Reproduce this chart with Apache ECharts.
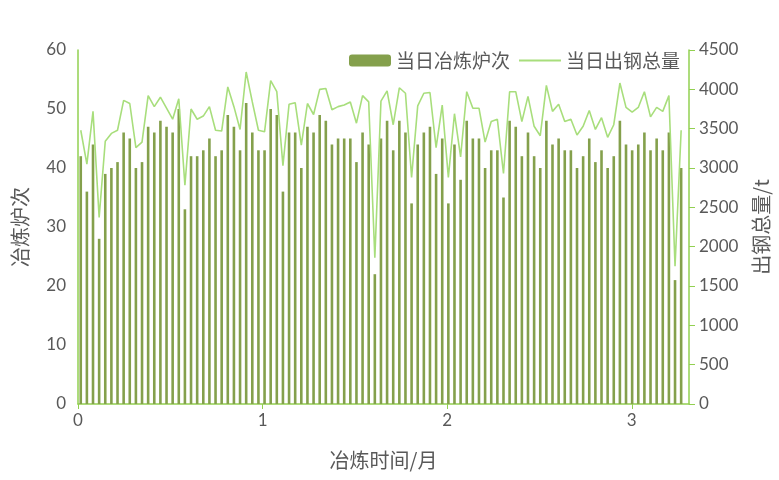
<!DOCTYPE html>
<html>
<head>
<meta charset="utf-8">
<script src="https://cdn.jsdelivr.net/npm/echarts@6/dist/echarts.min.js"></script>
<style>html,body{margin:0;padding:0;background:#fff}#chart{width:779px;height:480px}</style>
</head>
<body>
<div id="chart"></div>
<script>
// daily furnace heats (left axis)
const heats = [
  42,36,44,28,39,40,41,46,45,40,41,47,46,48,47,46,50,
  33,42,42,43,45,42,43,49,47,43,51,46,43,43,50,49,36,
  46,46,40,47,46,49,48,44,45,45,45,41,46,44,22,45,
  48,43,48,46,34,44,46,47,39,45,34,44,38,48,45,45,40,
  43,43,35,48,47,42,46,42,40,48,44,45,43,43,40,42,
  45,41,43,40,42,48,44,43,44,46,43,45,43,46,21,40
]
// daily steel output, t (right axis)
const output = [
  3480,3050,3720,2370,3340,3440,3480,3860,3820,3260,3330,3920,3780,3900,3760,3620,3880,
  2780,3750,3620,3660,3780,3480,3470,4030,3780,3490,4220,3840,3480,3460,4110,3970,3030,
  3810,3830,3290,3820,3680,4000,4010,3740,3780,3800,3840,3570,3920,3840,1860,3850,
  3980,3550,4020,3950,2880,3790,3950,3960,3260,3800,2880,3690,3140,3970,3760,3760,3330,
  3590,3620,2930,3970,3970,3590,3910,3530,3410,4050,3720,3810,3590,3620,3420,3530,
  3730,3490,3640,3390,3550,4080,3770,3710,3770,3970,3650,3770,3720,3920,1750,3480
]
const monthTicks = [0, 1, 2, 3]

// day index -> months
const xs = heats.map((_, i) => (i + 0.45) / 30.13)

const GRAY = '#595959'
const AXIS = '#92d050'
const NUM_FONT = 'Lato, "Noto Sans CJK SC", sans-serif'
const CJK_FONT = '"Noto Sans CJK SC", sans-serif'

const chart = echarts.init(document.getElementById('chart'))
chart.setOption({
  animation: false,
  grid: { left: 78, right: 88, top: 50, bottom: 76 },
  legend: {
    top: 46, right: 94, itemWidth: 42, itemHeight: 12, itemGap: 8,
    textStyle: { color: GRAY, fontSize: 19, fontFamily: CJK_FONT },
    data: [
      { name: '当日冶炼炉次' },
      { name: '当日出钢总量', itemStyle: { opacity: 0 } }
    ]
  },
  xAxis: {
    type: 'value', min: 0, max: 3.31, interval: 1,
    name: '冶炼时间/月', nameLocation: 'middle', nameGap: 46,
    nameTextStyle: { color: GRAY, fontSize: 20, fontFamily: CJK_FONT },
    axisLine: { lineStyle: { color: AXIS, width: 1.5 } },
    axisTick: { show: true, length: 5, lineStyle: { color: AXIS } },
    axisLabel: { color: GRAY, fontSize: 17, fontFamily: NUM_FONT, margin: 8, showMaxLabel: false,
      formatter: v => monthTicks.includes(v) ? String(v) : '' },
    splitLine: { show: false }
  },
  yAxis: [{
    type: 'value', min: 0, max: 60, interval: 10,
    name: '冶炼炉次', nameLocation: 'middle', nameRotate: 90, nameGap: 48,
    nameTextStyle: { color: GRAY, fontSize: 20, fontFamily: CJK_FONT },
    axisLine: { show: true, lineStyle: { color: AXIS, width: 1.5 } },
    axisTick: { show: false },
    axisLabel: { color: GRAY, fontSize: 17, fontFamily: NUM_FONT, margin: 12 },
    splitLine: { show: false }
  }, {
    type: 'value', min: 0, max: 4500, interval: 500, position: 'right',
    name: '出钢总量/t', nameLocation: 'middle', nameRotate: 90, nameGap: 62,
    nameTextStyle: { color: GRAY, fontSize: 20, fontFamily: CJK_FONT },
    axisLine: { show: true, lineStyle: { color: AXIS, width: 1.5 } },
    axisTick: { show: true, length: 6, lineStyle: { color: AXIS } },
    axisLabel: { color: GRAY, fontSize: 17, fontFamily: NUM_FONT, margin: 10,
      formatter: v => String(v) },
    splitLine: { show: false }
  }],
  series: [{
    name: '当日冶炼炉次', type: 'bar', yAxisIndex: 0, barWidth: 2.6,
    itemStyle: { color: '#84a04c' },
    data: heats.map((v, i) => [xs[i], v])
  }, {
    name: '当日出钢总量', type: 'line', yAxisIndex: 1, symbol: 'none',
    lineStyle: { color: '#a8de7c', width: 1.6 },
    itemStyle: { color: '#a8de7c' },
    z: 3,
    data: output.map((v, i) => [xs[i], v])
  }]
})
</script>
</body>
</html>
